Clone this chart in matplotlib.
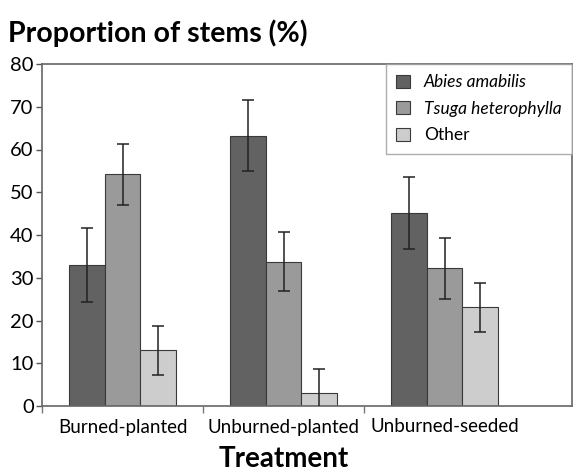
import matplotlib
matplotlib.use("Agg")
import matplotlib.pyplot as plt
import numpy as np

treatments = ["Burned-planted", "Unburned-planted", "Unburned-seeded"]
species = ["Abies amabilis", "Tsuga heterophylla", "Other"]
abies = [33.0, 63.2, 45.1]
abies_err = [8.6, 8.3, 8.4]
tsuga = [54.2, 33.8, 32.2]
tsuga_err = [7.1, 6.9, 7.2]
other = [13.0, 3.1, 23.1]
other_err = [5.8, 5.6, 5.7]

plt.rcParams['font.family'] = ['Lato', 'DejaVu Sans']

fig = plt.figure(figsize=(5.73, 4.75), dpi=100)
ax = fig.add_axes([42/573, 1-406/475, 530/573, 342/475])

x = np.arange(len(treatments))
w = 0.22
cols = ["#626262", "#9a9a9a", "#cdcdcd"]
series = [(abies, abies_err), (tsuga, tsuga_err), (other, other_err)]
for i, (vals, errs) in enumerate(series):
    ax.bar(x + (i-1)*w, vals, w, color=cols[i], edgecolor="#3a3a3a",
           linewidth=0.8, label=species[i], zorder=2)
    ax.errorbar(x + (i-1)*w, vals, yerr=errs, fmt="none", ecolor="#222222",
                elinewidth=1.1, capsize=4, capthick=1.1, zorder=3)

ax.set_ylim(0, 80)
ax.set_xlim(-0.5, -0.5 + 530/161)
ax.set_yticks(range(0, 81, 10))
ax.tick_params(axis="y", labelsize=14.5, length=4, width=1, color="#555555", pad=2)
ax.set_xticks(x)
ax.set_xticklabels(treatments, fontsize=13.5)
ax.tick_params(axis="x", which="major", length=0, pad=9)
ax.set_xticks([-0.5, 0.5, 1.5], minor=True)
ax.tick_params(axis="x", which="minor", length=5, width=1, color="#777777")
for s in ax.spines.values():
    s.set_color("#666666")
    s.set_linewidth(1.2)

leg = ax.legend(loc="upper right", borderaxespad=0, fancybox=False,
                prop={"style": "italic", "size": 12.5}, handlelength=0.8,
                handleheight=0.8, labelspacing=0.6, borderpad=0.6,
                handletextpad=0.8, edgecolor="#999999")
leg.get_texts()[2].set_fontstyle("normal")
leg.get_frame().set_linewidth(1)

fig.text(8/573, 1-33/475, "Proportion of stems (%)", fontsize=20.5,
         fontweight="bold", ha="left", va="center")
fig.text(283.5/573, 1-459/475, "Treatment", fontsize=20,
         fontweight="bold", ha="center", va="center")

fig.savefig("out.png", dpi=100)
